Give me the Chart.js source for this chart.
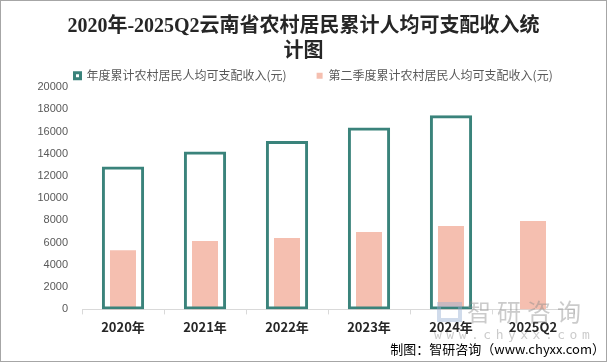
<!DOCTYPE html>
<html>
<head>
<meta charset="utf-8">
<script src="https://cdn.jsdelivr.net/npm/chart.js@4/dist/chart.umd.min.js"></script>
<style>
  html, body { margin: 0; padding: 0; background: #fff; }
  #wrap { position: relative; width: 607px; height: 362px; overflow: hidden; }
  #c { position: absolute; left: 0; top: 0; }
  #frame { position: absolute; left: 0; top: 0; width: 607px; height: 362px; box-sizing: border-box; border: 1px solid #a6a6a6; pointer-events: none; }
  #foot { position: absolute; right: 2px; top: 341px; font: 13px/16px "Noto Sans CJK SC", sans-serif; color: #000; white-space: nowrap; }
  #wm1 { position: absolute; left: 467px; top: 296px; font: 24px/30px "Noto Sans CJK SC", sans-serif; color: rgba(140,140,140,0.45); letter-spacing: 6px; white-space: nowrap; }
  #wm2 { position: absolute; left: 434px; top: 327px; font: 13px/16px "DejaVu Sans Mono", monospace; color: rgba(140,140,140,0.45); letter-spacing: 4.5px; white-space: nowrap; }
  #wmlogo { position: absolute; left: 437px; top: 302px; width: 25px; height: 20px; border: 4px solid rgba(150,175,210,0.45); border-top-width: 5px; box-sizing: border-box; }
</style>
</head>
<body>
<div id="wrap">
  <canvas id="c" width="607" height="362"></canvas>
  <div id="wmlogo"></div>
  <div id="wm1">智研咨询</div>
  <div id="wm2">www.chyxx.com</div>
  <div id="foot">制图：智研咨询（www.chyxx.com）</div>
  <div id="frame"></div>
</div>
<script>
const categories = ['2020年', '2021年', '2022年', '2023年', '2024年', '2025Q2'];
const annualIncome = [12842, 14197, 15147, 16361, 17460, null];
const q2Income = [5330, 6160, 6430, 6950, 7500, 7960];
const seriesNames = ['年度累计农村居民人均可支配收入(元)', '第二季度累计农村居民人均可支配收入(元)'];
const titleLines = ['2020年-2025Q2云南省农村居民累计人均可支配收入统', '计图'];

const TEAL = '#3a837b';
const PINK = '#f5bfb0';

const legendShift = {
  id: 'legendShift',
  afterLayout(chart) {
    const lg = chart.legend;
    if (lg) { lg.left += 11.5; lg.right += 11.5; }
  }
};

new Chart(document.getElementById('c'), {
  type: 'bar',
  plugins: [legendShift],
  data: {
    labels: categories,
    datasets: [
      {
        label: seriesNames[0],
        data: annualIncome,
        backgroundColor: 'rgba(255,255,255,0)',
        borderColor: TEAL,
        borderWidth: 3,
        borderSkipped: false,
        grouped: false,
        categoryPercentage: 1,
        barPercentage: 0.515
      },
      {
        label: seriesNames[1],
        data: q2Income,
        backgroundColor: PINK,
        borderWidth: 0,
        grouped: false,
        categoryPercentage: 1,
        barPercentage: 0.317
      }
    ]
  },
  options: {
    responsive: false,
    animation: false,
    layout: { padding: { left: 33, right: 33, top: 0, bottom: 22 } },
    plugins: {
      title: {
        display: true,
        text: titleLines,
        color: '#262626',
        font: { family: '"Liberation Serif", "Noto Sans CJK SC", serif', size: 20, weight: 'bold', lineHeight: 1.25 },
        padding: { top: 14.5, bottom: -24.8 }
      },
      legend: {
        display: true,
        align: 'start',
        maxHeight: 47.3,
        labels: {
          boxWidth: 6,
          boxHeight: 6,
          padding: 30,
          color: '#595959',
          font: { family: '"Noto Sans CJK SC", sans-serif', size: 12 }
        }
      },
      tooltip: { enabled: false }
    },
    scales: {
      x: {
        offset: true,
        grid: { display: true, drawOnChartArea: false, drawTicks: true, tickLength: 5, color: '#d9d9d9', offset: true },
        border: { display: true, color: '#d9d9d9', width: 1 },
        ticks: { color: '#262626', padding: 5, font: { family: '"Noto Sans CJK SC", sans-serif', size: 13, weight: 'bold' } }
      },
      y: {
        min: 0,
        max: 20000,
        afterFit: (s) => { s.width = 49; },
        grid: { display: false, drawTicks: false },
        border: { display: false },
        ticks: {
          stepSize: 2000,
          padding: 14,
          color: '#595959',
          font: { family: '"Liberation Sans", sans-serif', size: 11 },
          callback: (v) => String(v)
        }
      }
    }
  }
});
</script>
</body>
</html>
